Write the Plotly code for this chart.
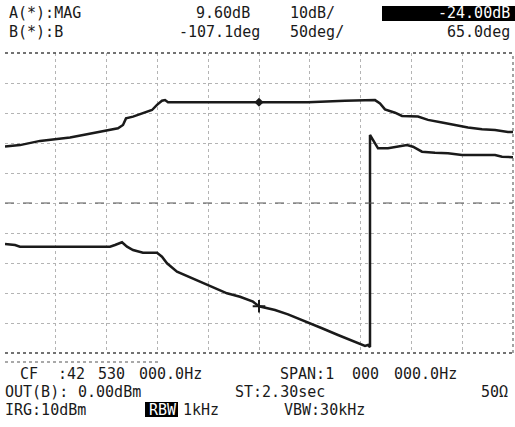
import plotly.graph_objects as go

# ---- data ----
# Magnitude trace A (dB), reference -24.00 dB at centre, 10 dB/div
freq_mag = [42.030, 42.0595, 42.0989, 42.1284, 42.158, 42.1914, 42.217, 42.2367, 42.2524,
            42.2623, 42.2682, 42.282, 42.3017, 42.3194, 42.3292, 42.339, 42.345, 42.3509,
            42.440, 42.530, 42.6265, 42.6993, 42.7584, 42.7682, 42.778, 42.7977, 42.8115,
            42.843, 42.8627, 42.8902, 42.9156, 42.9414, 42.969, 42.9946, 43.0201, 43.030]
mag_db = [-5.2, -4.7, -3.3, -2.8, -2.2, -1.1, -0.2, 0.3, 0.9,
          2.0, 4.2, 4.8, 5.9, 7.0, 8.7, 10.1, 10.3, 9.6,
          9.6, 9.6, 9.6, 10.1, 10.3, 9.2, 7.2, 6.1, 5.0,
          4.8, 3.7, 2.8, 2.0, 1.2, 0.6, 0.3, -0.3, -0.3]

# Phase trace B (deg), reference 65.0 deg at centre, 50 deg/div
freq_phase = [42.030, 42.0497, 42.0595, 42.1324, 42.2367, 42.2465, 42.2603, 42.2702, 42.282,
              42.3017, 42.3292, 42.339, 42.3489, 42.3686, 42.3883, 42.4139, 42.4394, 42.467,
              42.4926, 42.5182, 42.530, 42.5615, 42.5871, 42.6205, 42.654, 42.6855, 42.7189,
              42.7387, 42.7446, 42.7485, 42.7485, 42.7584, 42.7643, 42.7839, 42.8036, 42.8213,
              42.8331, 42.8508, 42.8764, 42.902, 42.9296, 42.9946, 43.0084, 43.030]
phase_deg = [-3.3, -5.0, -7.8, -7.8, -7.8, -5.0, -0.5, -7.8, -13.3,
             -17.8, -17.8, -24.5, -35.5, -49.5, -56.7, -66.2, -75.5, -85.5,
             -91.2, -99.5, -107.1, -113.3, -120.5, -132.8, -143.8, -155.0, -166.2,
             -173.3, -171.7, -175.0, 178.3, 164.5, 156.2, 156.2, 158.8, 161.7,
             158.8, 150.5, 148.8, 147.8, 145.0, 145.0, 142.2, 141.2]

marker_freq = 42.53
marker_mag = 9.60
marker_phase = -107.1

center_freq = 42.53
span = 1.0
ref_mag, mag_div = -24.0, 10.0
ref_phase, phase_div = 65.0, 50.0

# ---- figure ----
W, H = 515, 427
L, R, T, B = 5, 2, 53, 74
PW, PH = W - L - R, H - T - B

def px(x):
    return (x - L) / PW

def py(y):
    return (H - B - y) / PH

INK = "#1a1a1a"
fig = go.Figure()
fig.add_trace(go.Scatter(x=freq_mag, y=mag_db, mode="lines",
                         line=dict(color=INK, width=2.5), yaxis="y", showlegend=False))
fig.add_trace(go.Scatter(x=freq_phase, y=phase_deg, mode="lines",
                         line=dict(color=INK, width=2.5), yaxis="y2", showlegend=False))
fig.add_trace(go.Scatter(x=[marker_freq], y=[marker_mag], mode="markers",
                         marker=dict(symbol="diamond", size=7, color=INK), yaxis="y", showlegend=False))
fig.add_trace(go.Scatter(x=[marker_freq], y=[marker_phase], mode="markers",
                         marker=dict(symbol="cross-thin-open", size=9, color=INK,
                                     line=dict(color=INK, width=2)),
                         yaxis="y2", showlegend=False))

x0, x1 = center_freq - span / 2, center_freq + span / 2
fig.update_layout(
    width=W, height=H, margin=dict(l=L, r=R, t=T, b=B),
    paper_bgcolor="white", plot_bgcolor="white",
    xaxis=dict(range=[x0, x1], tick0=x0, dtick=span / 10, showgrid=True, gridcolor="#b4b4b4",
               griddash="dot", gridwidth=1, showticklabels=False, zeroline=False, ticks="",
               showline=False),
    yaxis=dict(range=[ref_mag - 5 * mag_div, ref_mag + 5 * mag_div], tick0=ref_mag, dtick=mag_div,
               showgrid=True, gridcolor="#b4b4b4", griddash="dot", gridwidth=1,
               showticklabels=False, zeroline=False, ticks="", showline=False),
    yaxis2=dict(range=[ref_phase - 5 * phase_div, ref_phase + 5 * phase_div], overlaying="y",
                showgrid=False, showticklabels=False, zeroline=False, ticks="", showline=False),
)

shapes = [
    dict(type="line", xref="paper", yref="paper", x0=0, x1=1, y0=1, y1=1,
         line=dict(color="#444", width=1.5, dash="dot")),
    dict(type="line", xref="paper", yref="paper", x0=0, x1=1, y0=0, y1=0,
         line=dict(color="#444", width=1.5, dash="dot")),
    dict(type="line", xref="paper", yref="paper", x0=0, x1=1, y0=0.5, y1=0.5,
         line=dict(color="#555", width=1, dash="dash")),
    dict(type="line", xref="paper", yref="paper", x0=1, x1=1, y0=0, y1=1,
         line=dict(color="#666", width=1.2, dash="dot")),
    dict(type="line", xref="paper", yref="paper", x0=0, x1=px(158), y0=py(362), y1=py(362),
         line=dict(color="#555", width=1.2, dash="dot")),
    dict(type="rect", xref="paper", yref="paper", x0=px(382), x1=px(515), y0=py(21), y1=py(6),
         fillcolor="black", line=dict(width=0)),
    dict(type="rect", xref="paper", yref="paper", x0=px(145), x1=px(178), y0=py(417), y1=py(402),
         fillcolor="black", line=dict(width=0)),
]
fig.update_layout(shapes=shapes)

FONT = "DejaVu Sans Mono"
texts = [
    # (text, x, y, anchor, color)
    ("A(*):MAG", 7, 13, "left", INK),
    ("9.60dB", 252, 13, "right", INK),
    ("10dB/", 288, 13, "left", INK),
    ("-24.00dB", 512, 13, "right", "white"),
    ("B(*):B", 7, 32, "left", INK),
    ("-107.1deg", 262, 32, "right", INK),
    ("50deg/", 288, 32, "left", INK),
    ("65.0deg", 512, 32, "right", INK),
    ("CF", 18, 374, "left", INK),
    (":42", 56, 374, "left", INK),
    ("530", 96, 374, "left", INK),
    ("000.0Hz", 137, 374, "left", INK),
    ("SPAN:1", 278, 374, "left", INK),
    ("000", 350, 374, "left", INK),
    ("000.0Hz", 392, 374, "left", INK),
    ("OUT(B):", 3, 392, "left", INK),
    ("0.00dBm", 76, 392, "left", INK),
    ("ST:2.30sec", 233, 392, "left", INK),
    ("50Ω", 510, 392, "right", INK),
    ("IRG:10dBm", 3, 410, "left", INK),
    ("RBW", 147, 410, "left", "white"),
    ("1kHz", 181, 410, "left", INK),
    ("VBW:30kHz", 282, 410, "left", INK),
]
ann = []
for t, x, y, a, c in texts:
    ann.append(dict(text=t, xref="paper", yref="paper", x=px(x), y=py(y), xanchor=a,
                    yanchor="middle", showarrow=False, font=dict(family=FONT, size=15, color=c)))
fig.update_layout(annotations=ann)

fig.write_html("out.html")
